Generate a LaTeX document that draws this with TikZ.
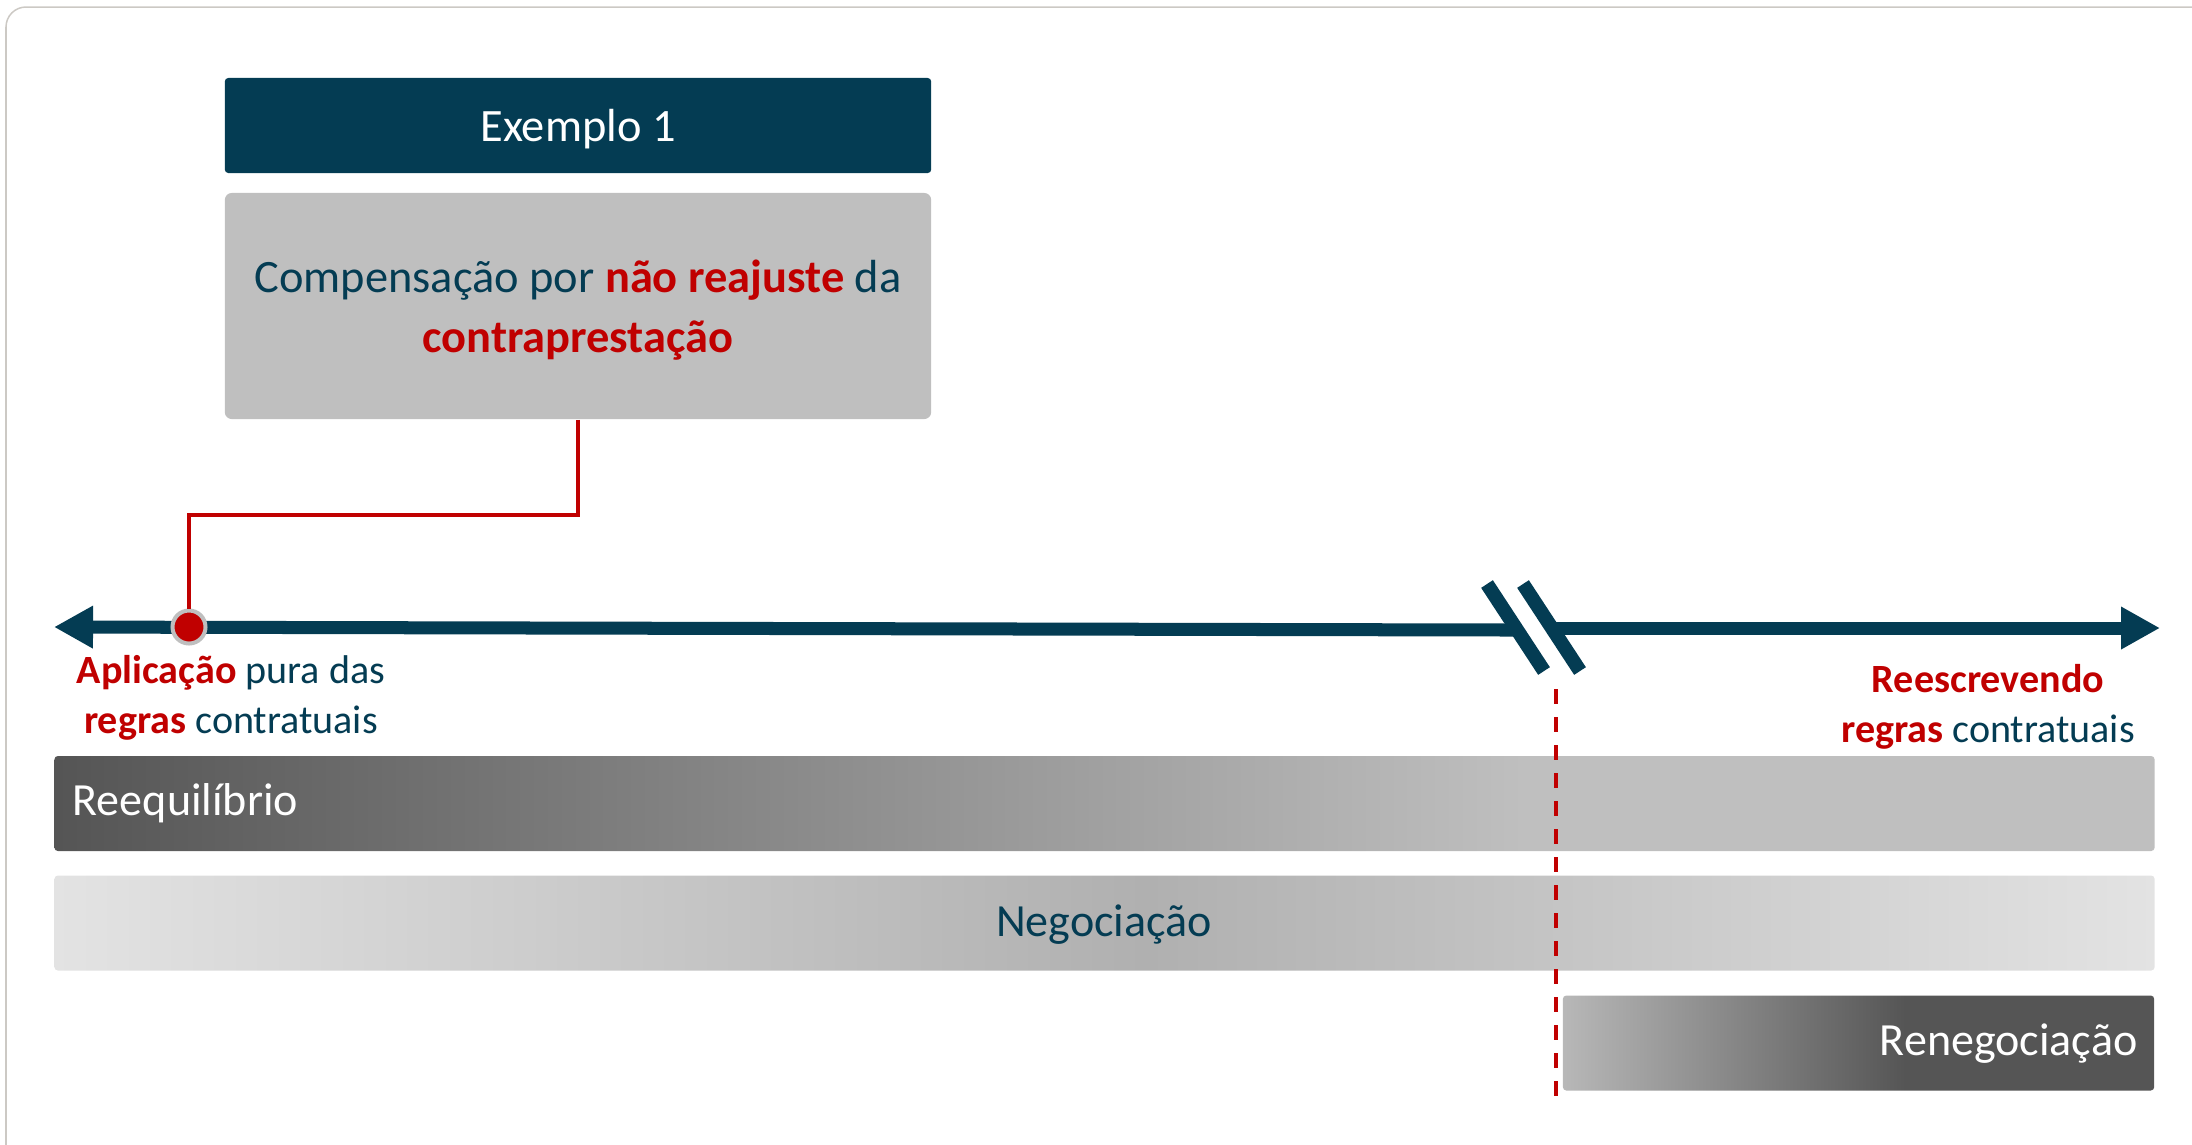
\documentclass[tikz,border=0pt]{standalone}
\usepackage{fontspec}
\setmainfont{Carlito}
\usepackage{tikz}
\usetikzlibrary{arrows.meta}
\usepackage{xcolor}
\definecolor{petrol}{rgb}{0.016,0.235,0.325}
\definecolor{crimson}{rgb}{0.753,0,0}
\definecolor{boxgray}{rgb}{0.749,0.749,0.749}
\definecolor{framegray}{rgb}{0.80,0.79,0.77}
\definecolor{dkgray}{rgb}{0.333,0.333,0.333}
\definecolor{ltgray}{rgb}{0.89,0.89,0.89}
\definecolor{midgray}{rgb}{0.69,0.69,0.69}
\definecolor{rngray}{rgb}{0.72,0.72,0.72}

\pgfdeclarehorizontalshading{reeqfade}{100bp}{color(0bp)=(dkgray); color(25bp)=(dkgray); color(60bp)=(boxgray); color(100bp)=(boxgray)}
\pgfdeclarehorizontalshading{negofade}{100bp}{color(0bp)=(ltgray); color(25bp)=(ltgray); color(51bp)=(midgray); color(75bp)=(ltgray); color(100bp)=(ltgray)}
\pgfdeclarehorizontalshading{renegfade}{100bp}{color(0bp)=(rngray); color(25bp)=(rngray); color(54bp)=(dkgray); color(100bp)=(dkgray)}

\newcommand{\hl}[1]{\textcolor{crimson}{\textbf{#1}}}

\begin{document}
\begin{tikzpicture}[
		x=0.01cm, y=-0.01cm,
		hd/.style	= {rectangle, fill=petrol, rounded corners=1pt, minimum width=7.06cm, minimum height=0.95cm, text depth=0pt, text=white, font=\fontsize{13.2}{16}\selectfont},
		bx/.style	= {rectangle, fill=boxgray, rounded corners=2pt, minimum width=7.06cm, minimum height=2.26cm},
		bxt/.style	= {align=center, text=petrol, inner sep=0, font=\fontsize{13.2}{16.8}\selectfont},
		bar/.style	= {rectangle, rounded corners=1pt, minimum height=0.95cm, inner sep=0},
		lbl/.style	= {align=center, text=petrol, inner sep=0, font=\fontsize{11.4}{14.2}\selectfont},
		bt/.style	= {inner sep=0, font=\fontsize{13.1}{15}\selectfont},
		tl/.style	= {line width=0.13cm, petrol},
		cut/.style	= {line width=0.14cm, petrol},
		con/.style	= {line width=0.035cm, crimson},
		dsh/.style	= {line width=0.04cm, crimson, dash pattern=on 0.15cm off 0.13cm},
		reddot/.style	= {circle, fill=crimson, draw=boxgray, line width=0.04cm, minimum size=0.33cm, inner sep=0}
		]
		\useasboundingbox (0,0) rectangle (2192,1144);
		\draw[framegray, line width=0.015cm, rounded corners=0.2cm] (6,7) rectangle (2240,1170);
		
		%Nodes
		\node[hd]	(ex)	at	(578,125.5)	{Exemplo 1};
		\node[bx]	(box)	at	(578,306)	{};
		\node[bxt, anchor=base]	(boxtxt)	at	(578,352)	{Compensação por \hl{não reajuste} da\\\hl{contraprestação}};
		\node[bar, shading=reeqfade, minimum width=20.99cm]	(reeq)	at	(1104.5,803.5)	{};
		\node[bar, shading=negofade, minimum width=20.99cm]	(nego)	at	(1104.5,923)	{};
		\node[bar, shading=renegfade, minimum width=5.91cm]	(reneg)	at	(1858.5,1043)	{};
		\node[bt, text=white, anchor=base west]	(treeq)	at	(72,815)	{Reequilíbrio};
		\node[bt, text=petrol, anchor=base]	(tnego)	at	(1104,936)	{Negociação};
		\node[bt, text=white, anchor=base east]	(treneg)	at	(2138,1055)	{Renegociação};
		\node[lbl, anchor=base]	(apl)	at	(231,733)	{\hl{Aplicação} pura das\\\hl{regras} contratuais};
		\node[lbl, anchor=base]	(rees)	at	(1988,742)	{\hl{Reescrevendo}\\\hl{regras} contratuais};
		\coordinate	(tl)	at	(54,627);
		\coordinate	(b1)	at	(1515,630);
		\coordinate	(b2)	at	(1552,628);
		\coordinate	(tr)	at	(2160,628);
		\coordinate	(cut)	at	(1556,689);
		\coordinate	(cutend)	at	(1556,1097);
		
		%Lines
		\draw[tl, {Triangle[length=0.39cm, width=0.40cm]}-]	(tl)	--	(b1);
		\draw[tl, -{Triangle[length=0.39cm, width=0.40cm]}]	(b2)	--	(tr);
		\draw[cut]	(1487,584)	--	(1544,671);
		\draw[cut]	(1523,584)	--	(1580,671);
		\draw[dsh]	(cut)	--	(cutend);
		\node[reddot]	(dot)	at	(189,627)	{};
		\draw[con]	(box.south)	--	++(0,95)	-|	(dot.north);
	\end{tikzpicture}
\end{document}
